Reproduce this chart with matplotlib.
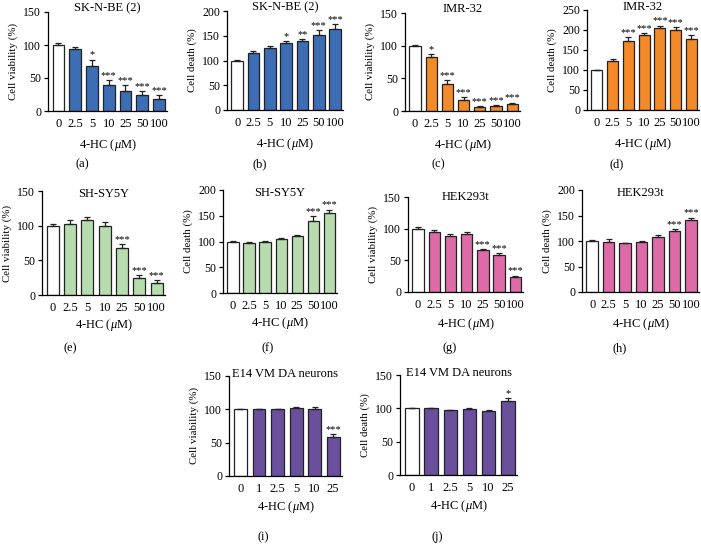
import matplotlib
matplotlib.use('Agg')
import matplotlib.pyplot as plt
import numpy as np

plt.rcParams['font.family'] = ['Liberation Serif', 'DejaVu Serif']
plt.rcParams['mathtext.fontset'] = 'custom'
plt.rcParams['mathtext.it'] = 'Liberation Serif:italic'
plt.rcParams['mathtext.rm'] = 'Liberation Serif'

# doses
dose_7 = ['0', '2.5', '5', '10', '25', '50', '100']
dose_6 = ['0', '1', '2.5', '5', '10', '25']

# SK-N-BE (2)
skn_viab = [100, 94, 68, 40, 31, 24, 18]
skn_viab_err = [3, 3, 10, 7, 8, 6, 6]
skn_viab_sig = ['', '', '*', '***', '***', '***', '***']
skn_death = [100, 115, 125, 135, 140, 151, 163]
skn_death_err = [1, 5, 5, 5, 4, 10, 10]
skn_death_sig = ['', '', '', '*', '**', '***', '***']

# IMR-32
imr_viab = [100, 82, 42, 17, 6, 8, 11]
imr_viab_err = [1, 5, 6, 4, 1, 1, 2]
imr_viab_sig = ['', '*', '***', '***', '***', '***', '***']
imr_death = [100, 122, 173, 187, 205, 200, 178]
imr_death_err = [1, 5, 10, 5, 6, 8, 10]
imr_death_sig = ['', '', '***', '***', '***', '***', '***']

# SH-SY5Y
shs_viab = [100, 103, 108, 100, 68, 24, 18]
shs_viab_err = [3, 5, 5, 5, 5, 5, 3]
shs_viab_sig = ['', '', '', '', '***', '***', '***']
shs_death = [100, 98, 100, 105, 110, 140, 156]
shs_death_err = [1, 1, 1, 1, 2, 10, 6]
shs_death_sig = ['', '', '', '', '', '***', '***']

# HEK293t
hek_viab = [100, 95, 89, 91, 66, 59, 24]
hek_viab_err = [2, 3, 3, 3, 2, 3, 2]
hek_viab_sig = ['', '', '', '', '***', '***', '***']
hek_death = [100, 99, 96, 99, 108, 119, 142]
hek_death_err = [2, 4, 1, 1, 3, 4, 4]
hek_death_sig = ['', '', '', '', '', '***', '***']

# E14 VM DA neurons
e14_viab = [100, 100, 100, 102, 100, 58]
e14_viab_err = [1, 1, 1, 1, 3, 5]
e14_viab_sig = ['', '', '', '', '', '***']
e14_death = [100, 100, 97, 99, 96, 111]
e14_death_err = [1, 1, 1, 1, 1, 5]
e14_death_sig = ['', '', '', '', '', '*']

BLUE = '#3d6db4'
ORANGE = '#f28a2a'
GREEN = '#b7dcae'
PINK = '#de6aa8'
PURPLE = '#6a4f9d'

W, H = 701, 549
fig = plt.figure(figsize=(W / 100, H / 100), dpi=100)


def panel(px, title, labels, vals, errs, sig, color, ylabel, ymax, ystep,
          letter, lab_xy, title_dy=0, xlabpad=6):
    xl, xr, yt, yb = px
    ax = fig.add_axes([xl / W, 1 - yb / H, (xr - xl) / W, (yb - yt) / H])
    x = np.arange(len(vals))
    colors = ['white'] + [color] * (len(vals) - 1)
    ax.bar(x, vals, width=0.7, color=colors, edgecolor='#222222', linewidth=0.9, zorder=2)
    ax.errorbar(x, vals, yerr=[np.zeros(len(errs)), errs], fmt='none',
                ecolor='#222222', elinewidth=0.9, capsize=2.5, capthick=0.9, zorder=3)
    for xi, v, e, s in zip(x, vals, errs, sig):
        if s:
            ax.text(xi, v + e, s, ha='center', va='bottom', fontsize=7.5)
    ax.set_xlim(-0.62, len(vals) - 0.52)
    ax.set_ylim(0, ymax)
    ax.set_yticks(np.arange(0, ymax + 1, ystep))
    ax.set_xticks(x)
    ax.set_xticklabels(labels)
    for s in ['top', 'right']:
        ax.spines[s].set_visible(False)
    for s in ['left', 'bottom']:
        ax.spines[s].set_linewidth(0.9)
    ax.tick_params(axis='x', length=0, pad=5, labelsize=9)
    ax.tick_params(axis='y', length=3, width=0.9, pad=2, labelsize=8.5)
    ax.set_ylabel(ylabel, fontsize=7.8, labelpad=4)
    ax.set_xlabel(r'4-HC ($\mu$M)', fontsize=9, labelpad=xlabpad)
    ax.text(0.5, 1.0 + title_dy / (yb - yt), title, transform=ax.transAxes,
            ha='center', va='center', fontsize=9)
    fig.text(lab_xy[0] / W, 1 - lab_xy[1] / H, letter, ha='center', va='center', fontsize=9)
    return ax


via = 'Cell viability (%)'
dea = 'Cell death (%)'

panel((48, 167, 12, 111), 'SK-N-BE (2)', dose_7, skn_viab, skn_viab_err, skn_viab_sig,
      BLUE, via, 150, 50, '(a)', (82, 164), title_dy=4, xlabpad=5)
panel((227, 343, 11, 110), 'SK-N-BE (2)', dose_7, skn_death, skn_death_err, skn_death_sig,
      BLUE, dea, 200, 50, '(b)', (260, 164), title_dy=4, xlabpad=5)
panel((405, 520, 13, 111), 'IMR-32', dose_7, imr_viab, imr_viab_err, imr_viab_sig,
      ORANGE, via, 150, 50, '(c)', (438, 164), title_dy=4, xlabpad=5)
panel((587, 699, 10, 110), 'IMR-32', dose_7, imr_death, imr_death_err, imr_death_sig,
      ORANGE, dea, 250, 50, '(d)', (617, 164), title_dy=3, xlabpad=5)

panel((42, 165, 191, 295), 'SH-SY5Y', dose_7, shs_viab, shs_viab_err, shs_viab_sig,
      GREEN, via, 150, 50, '(e)', (70, 348), title_dy=-3, xlabpad=2)
panel((223, 337, 190, 293), 'SH-SY5Y', dose_7, shs_death, shs_death_err, shs_death_sig,
      GREEN, dea, 200, 50, '(f)', (268, 348), title_dy=-3, xlabpad=2)
panel((408, 523, 197, 292), 'HEK293t', dose_7, hek_viab, hek_viab_err, hek_viab_sig,
      PINK, via, 150, 50, '(g)', (450, 348), title_dy=0, xlabpad=4)
panel((582, 699, 190, 292), 'HEK293t', dose_7, hek_death, hek_death_err, hek_death_sig,
      PINK, dea, 200, 50, '(h)', (620, 348), title_dy=-3, xlabpad=4)

panel((229, 342, 376, 476), 'E14 VM DA neurons', dose_6, e14_viab, e14_viab_err, e14_viab_sig,
      PURPLE, via, 150, 50, '(i)', (263, 537), title_dy=2, xlabpad=3)
panel((400, 517, 375, 475), 'E14 VM DA neurons', dose_6, e14_death, e14_death_err, e14_death_sig,
      PURPLE, dea, 150, 50, '(j)', (437, 537), title_dy=2, xlabpad=3)

fig.savefig('out.png', dpi=100)
